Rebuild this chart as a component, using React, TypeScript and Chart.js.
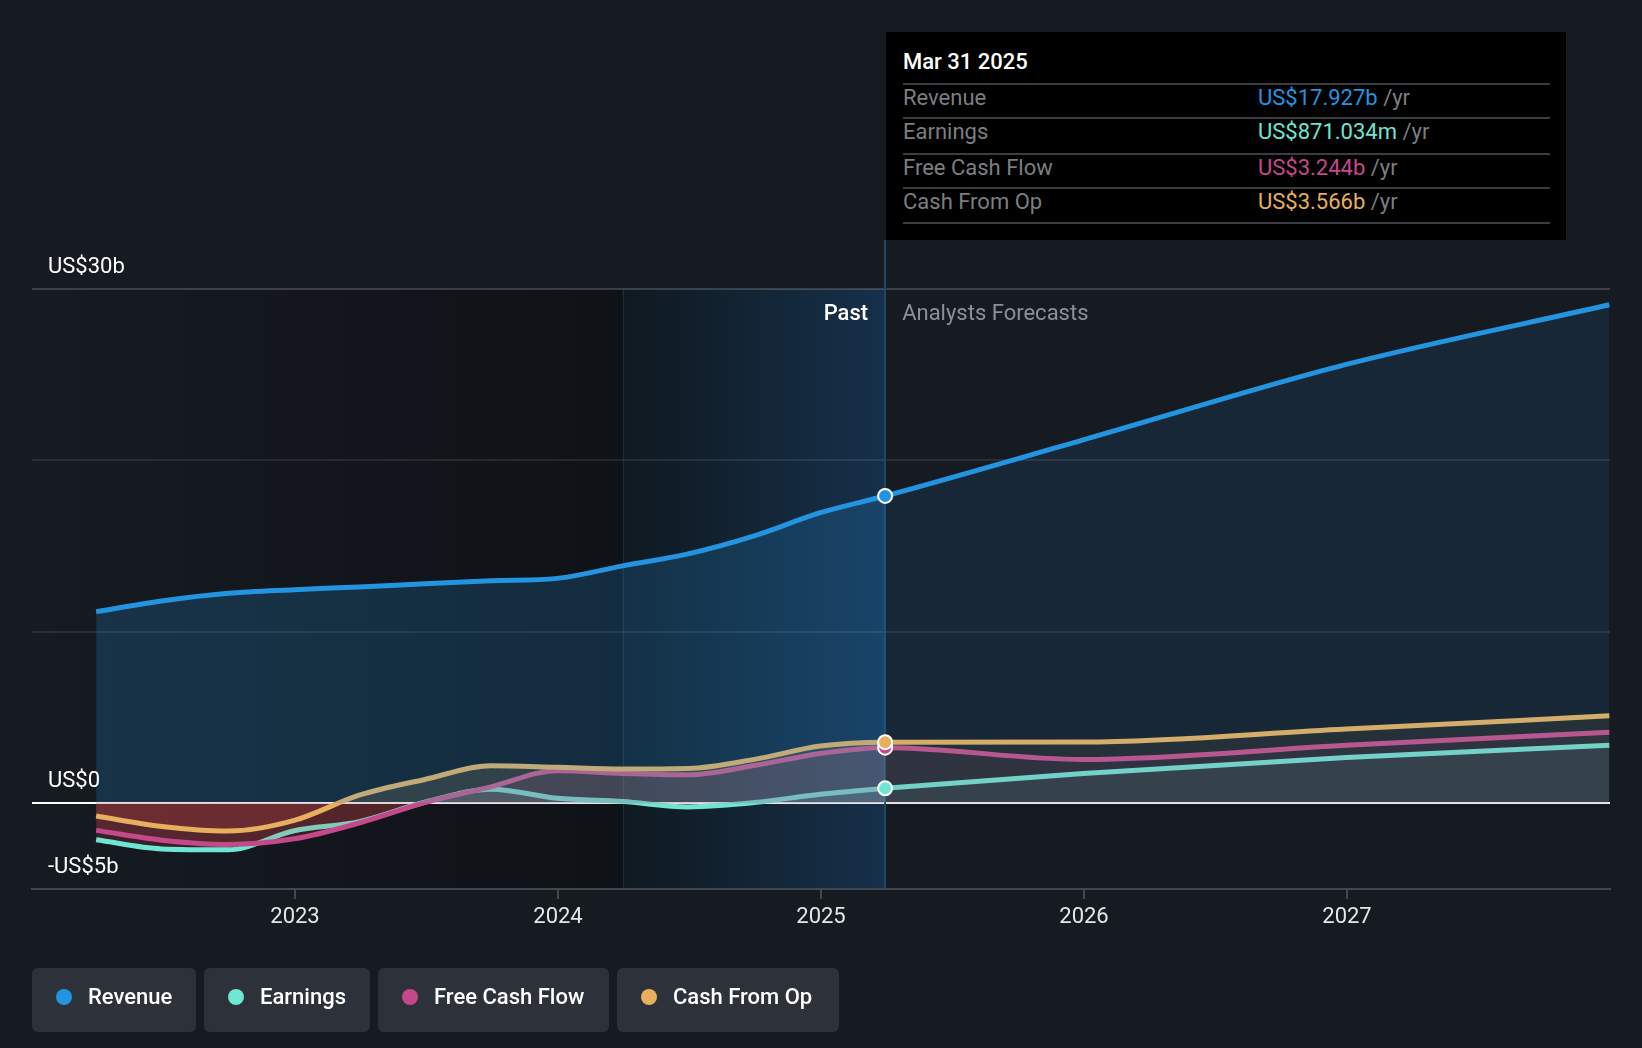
import React, { useEffect, useRef } from 'react';
import { Chart, registerables } from 'chart.js';
Chart.register(...registerables);

// ---- data (US$ billions) ----
const pastDates = ['2022-03-31', '2022-06-30', '2022-09-30', '2022-12-31', '2023-03-31', '2023-06-30', '2023-09-30', '2023-12-31', '2024-03-31', '2024-06-30', '2024-09-30', '2024-12-31', '2025-03-31'];
const forecastDates = ['2025-12-31', '2026-12-31', '2027-12-31'];

const revenuePast = [11.18, 11.8, 12.25, 12.46, 12.62, 12.8, 12.98, 13.12, 13.85, 14.55, 15.6, 16.95, 17.927];
const revenueForecast = [21.2, 25.6, 29.08];
const earningsPast = [-2.13, -2.66, -2.71, -1.6, -1.07, 0.06, 0.82, 0.29, 0.1, -0.21, 0.04, 0.53, 0.871034];
const earningsForecast = [1.74, 2.67, 3.38];
const fcfPast = [-1.58, -2.15, -2.4, -2.07, -1.15, 0.04, 0.96, 1.9, 1.74, 1.66, 2.2, 2.91, 3.244];
const fcfForecast = [2.55, 3.38, 4.14];
const cfoPast = [-0.74, -1.35, -1.62, -1.0, 0.47, 1.39, 2.19, 2.1, 2.0, 2.03, 2.56, 3.34, 3.566];
const cfoForecast = [3.57, 4.33, 5.1];

const seriesNames = ['Revenue', 'Earnings', 'Free Cash Flow', 'Cash From Op'];
const seriesColors = ['#2394e0', '#6ee6d2', '#c5498a', '#e8b05e'];

const xTickYears = [2023, 2024, 2025, 2026, 2027];
const yGridValues = [-5, 0, 10, 20, 30];
const yLabelValues = [30, 0, -5];
const yLabelTexts = ['US$30b', 'US$0', '-US$5b'];

const tooltipDate = 'Mar 31 2025';
const bandStartDate = '2024-03-31';

const LAST_PAST = pastDates.length - 1;
const FONT = 22;

const toYear = (s: string) => {
  const [y, m, d] = s.split('-').map(Number);
  const start = Date.UTC(y, 0, 1);
  const end = Date.UTC(y + 1, 0, 1);
  return y + (Date.UTC(y, m - 1, d) - start) / (end - start);
};
const allDates = [...pastDates, ...forecastDates];
const toPoints = (past: number[], fut: number[]) =>
  [...past, ...fut].map((v, i) => ({ x: toYear(allDates[i]), y: v }));

const hexToRgb = (h: string) => {
  const n = parseInt(h.slice(1), 16);
  return [(n >> 16) & 255, (n >> 8) & 255, n & 255];
};
const rgba = (h: string, a: number) => {
  const [r, g, b] = hexToRgb(h);
  return `rgba(${r},${g},${b},${a})`;
};

const RED = '#e0474c';
const gradCache = new Map<string, { key: string; grad: any }>();

function segFill(id: string, color: string, pastA: number, futA: number, redA: number) {
  return (ctx: any) => {
    const chart = ctx.chart;
    const area = chart.chartArea;
    if (!area) return 'transparent';
    const past = ctx.p1DataIndex <= LAST_PAST;
    const y0 = chart.scales.y.getPixelForValue(0);
    const ck = id + (past ? 'p' : 'f');
    const key = `${chart.id}|${area.top}|${area.bottom}|${y0}`;
    const hit = gradCache.get(ck);
    if (hit && hit.key === key) return hit.grad;
    const above = rgba(color, past ? pastA : futA);
    const below = rgba(RED, redA);
    const f = Math.min(1, Math.max(0, (y0 - area.top) / (area.bottom - area.top)));
    const g = chart.ctx.createLinearGradient(0, area.top, 0, area.bottom);
    g.addColorStop(0, above);
    g.addColorStop(f, above);
    g.addColorStop(f, below);
    g.addColorStop(1, below);
    gradCache.set(ck, { key, grad: g });
    return g;
  };
}

const fmtB = (v: number) => `US$${v.toFixed(3)}b`;
const fmtM = (v: number) => `US$${(v * 1000).toFixed(3)}m`;

const bgPlugin = {
  id: 'bgPlugin',
  beforeDraw(chart: any) {
    const { ctx, chartArea: a, scales } = chart;
    const xb = scales.x.getPixelForValue(toYear(bandStartDate));
    const xe = scales.x.getPixelForValue(toYear(pastDates[LAST_PAST]));
    ctx.save();
    ctx.fillStyle = '#161b22';
    ctx.fillRect(0, 0, chart.width, chart.height);
    let g = ctx.createLinearGradient(a.left, 0, xb, 0);
    g.addColorStop(0, '#161b22');
    g.addColorStop(1, '#0f1217');
    ctx.fillStyle = g;
    ctx.fillRect(a.left, a.top, xb - a.left, a.bottom - a.top);
    g = ctx.createLinearGradient(xb, 0, xe, 0);
    g.addColorStop(0, '#0f1920');
    g.addColorStop(1, '#16304a');
    ctx.fillStyle = g;
    ctx.fillRect(xb, a.top, xe - xb, a.bottom - a.top);
    ctx.fillStyle = 'rgba(40,70,95,0.45)';
    ctx.fillRect(Math.round(xb), a.top, 1, a.bottom - a.top);
    ctx.restore();
  },
  beforeDatasetsDraw(chart: any) {
    const { ctx, chartArea: a, scales } = chart;
    const xe = scales.x.getPixelForValue(toYear(pastDates[LAST_PAST]));
    ctx.save();
    ctx.fillStyle = '#1f4868';
    ctx.fillRect(Math.round(xe) - 1, 240, 2, a.bottom - 240);
    ctx.restore();
  },
  afterDatasetsDraw(chart: any) {
    const { ctx } = chart;
    const drawOrder = [1, 2, 3, 0];
    ctx.save();
    for (const di of drawOrder) {
      const meta = chart.getDatasetMeta(di);
      const el = meta.data[LAST_PAST];
      if (!el) continue;
      ctx.beginPath();
      ctx.arc(el.x, el.y, 7, 0, Math.PI * 2);
      ctx.fillStyle = seriesColors[di];
      ctx.fill();
      ctx.lineWidth = 2;
      ctx.strokeStyle = '#ffffff';
      ctx.stroke();
    }
    ctx.restore();
  },
  afterDraw(chart: any) {
    const { ctx, chartArea: a, scales } = chart;
    const xe = scales.x.getPixelForValue(toYear(pastDates[LAST_PAST]));
    ctx.save();
    ctx.font = `${FONT}px Roboto`;
    ctx.textBaseline = 'middle';
    ctx.fillStyle = '#ffffff';
    ctx.textAlign = 'left';
    yLabelValues.forEach((v, i) => {
      ctx.fillText(yLabelTexts[i], 48, scales.y.getPixelForValue(v) - 22);
    });
    ctx.font = `500 ${FONT}px Roboto`;
    ctx.textAlign = 'right';
    ctx.fillText('Past', xe - 17, a.top + 25);
    ctx.font = `${FONT}px Roboto`;
    ctx.textAlign = 'left';
    ctx.fillStyle = '#8b9099';
    ctx.fillText('Analysts Forecasts', xe + 17, a.top + 25);
    ctx.restore();
  },
};

export default function App() {
  const ref = useRef<HTMLCanvasElement>(null);
  useEffect(() => {
    Chart.defaults.font.family = 'Roboto, sans-serif';
    const mk = (i: number, past: number[], fut: number[], order: number, pastA: number, futA: number) => ({
      label: seriesNames[i],
      data: toPoints(past, fut),
      borderColor: seriesColors[i],
      backgroundColor: rgba(seriesColors[i], futA),
      borderWidth: 5,
      fill: 'origin',
      order,
      pointRadius: 0,
      pointHoverRadius: 0,
      cubicInterpolationMode: 'monotone' as const,
      borderCapStyle: 'butt' as const,
      segment: { backgroundColor: segFill('d' + i, seriesColors[i], pastA, futA, 0.17) },
    });
    const chart = new Chart(ref.current!, {
      type: 'line',
      data: {
        datasets: [
          mk(0, revenuePast, revenueForecast, 0, 0.2, 0.1),
          mk(1, earningsPast, earningsForecast, 3, 0.16, 0.09),
          mk(2, fcfPast, fcfForecast, 2, 0.16, 0.07),
          mk(3, cfoPast, cfoForecast, 1, 0.16, 0.07),
        ] as any,
      },
      options: {
        responsive: false,
        devicePixelRatio: 1,
        animation: false,
        events: [],
        layout: { padding: { left: 32, right: 32, top: 289, bottom: 0 } },
        plugins: { legend: { display: false }, tooltip: { enabled: false } },
        scales: {
          x: {
            type: 'linear',
            min: 2022,
            max: 2028,
            afterBuildTicks: (s: any) => {
              s.ticks = xTickYears.map((v) => ({ value: v }));
            },
            afterFit: (s: any) => {
              s.height = 159;
            },
            ticks: {
              callback: (v: any) => String(v),
              color: '#e6e6e6',
              font: { size: FONT, family: 'Roboto' },
              padding: 5,
              autoSkip: false,
              maxRotation: 0,
            },
            grid: { drawOnChartArea: false, drawTicks: true, tickLength: 10, color: '#44474f', lineWidth: 2 },
            border: { display: true, color: '#44474f', width: 2 },
          },
          y: {
            type: 'linear',
            min: -5,
            max: 30,
            afterBuildTicks: (s: any) => {
              s.ticks = yGridValues.map((v) => ({ value: v }));
            },
            afterFit: (s: any) => {
              s.width = 0;
            },
            ticks: { display: false },
            grid: {
              drawTicks: false,
              color: (c: any) => {
                const v = c.tick?.value;
                if (v === -5) return 'rgba(0,0,0,0)';
                if (v === 0) return '#ffffff';
                if (v === 30) return 'rgba(255,255,255,0.17)';
                return 'rgba(255,255,255,0.09)';
              },
              lineWidth: 2,
            },
            border: { display: false },
          },
        },
      } as any,
      plugins: [bgPlugin],
    });
    let alive = true;
    (document as any).fonts?.load?.(`${FONT}px Roboto`).then(() => {
      if (alive) chart.update();
    });
    return () => {
      alive = false;
      chart.destroy();
    };
  }, []);

  const tipValues = [
    fmtB(revenuePast[LAST_PAST]),
    fmtM(earningsPast[LAST_PAST]),
    fmtB(fcfPast[LAST_PAST]),
    fmtB(cfoPast[LAST_PAST]),
  ];
  const rowCenters = [66, 100, 136, 170];
  const sepTops = [51, 85, 121, 155, 190];
  const legendWidths = [164, 166, 231, 222];

  return (
    <div style={{ position: 'absolute', left: 0, top: 0, width: 1642, height: 1048, background: '#161b22', overflow: 'hidden', fontFamily: 'Roboto, sans-serif' }}>
      <canvas ref={ref} width={1642} height={1048} style={{ position: 'absolute', left: 0, top: 0 }} />
      <div style={{ position: 'absolute', left: 886, top: 32, width: 680, height: 208, background: '#000' }}>
        <div style={{ position: 'absolute', left: 17, top: 17, lineHeight: '26px', fontSize: FONT, fontWeight: 500, color: '#fff' }}>{tooltipDate}</div>
        {sepTops.map((t, i) => (
          <div key={'s' + i} style={{ position: 'absolute', left: 17, top: t, width: 647, height: 2, background: '#3a3d43' }} />
        ))}
        {seriesNames.map((n, i) => (
          <React.Fragment key={n}>
            <div style={{ position: 'absolute', left: 17, top: rowCenters[i] - 13, lineHeight: '26px', fontSize: FONT, color: '#7c7e81' }}>{n}</div>
            <div style={{ position: 'absolute', left: 372, top: rowCenters[i] - 13, lineHeight: '26px', fontSize: FONT, whiteSpace: 'nowrap' }}>
              <span style={{ color: seriesColors[i] }}>{tipValues[i]}</span>
              <span style={{ color: '#7c7e81' }}> /yr</span>
            </div>
          </React.Fragment>
        ))}
      </div>
      <div style={{ position: 'absolute', left: 32, top: 968, display: 'flex', gap: 8 }}>
        {seriesNames.map((n, i) => (
          <div key={n} style={{ width: legendWidths[i], height: 64, boxSizing: 'border-box', background: '#2c313a', borderRadius: 6, display: 'flex', alignItems: 'center', paddingLeft: 24, paddingBottom: 7 }}>
            <span style={{ width: 16, height: 16, borderRadius: '50%', background: seriesColors[i], marginRight: 16, flex: 'none' }} />
            <span style={{ color: '#fff', fontSize: FONT, fontWeight: 500, whiteSpace: 'nowrap', lineHeight: '26px' }}>{n}</span>
          </div>
        ))}
      </div>
    </div>
  );
}
